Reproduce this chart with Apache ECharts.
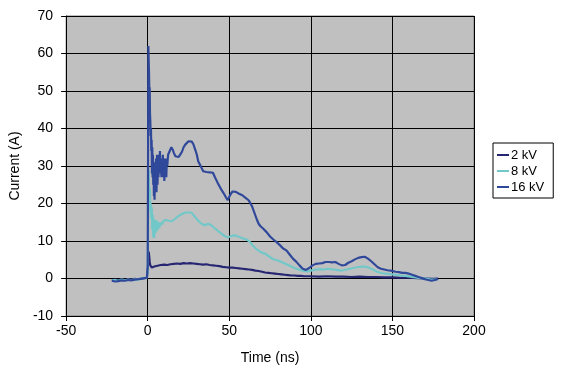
<!DOCTYPE html>
<html><head><meta charset="utf-8">
<script src="https://cdn.jsdelivr.net/npm/echarts@6/dist/echarts.min.js"></script>
<style>html,body{margin:0;padding:0;background:#fff}#c{width:571px;height:391px}</style>
</head><body><div id="c"></div>
<script>
var seriesNames = ['2 kV', '8 kV', '16 kV'];
var xTicks = [-50, 0, 50, 100, 150, 200];
var yTicks = [-10, 0, 10, 20, 30, 40, 50, 60, 70];

var kv2 = [[-22,-0.4],[-20,-0.3],[-18,-0.5],[-16,-0.2],[-14,-0.4],[-12,-0.2],[-10,-0.3],[-8,-0.1],[-6,-0.2],[-4,0.0],[-2,0.1],[-0.5,0.2],
[0,0.5],[0.3,4],[0.6,7.2],[0.9,6],[1.2,4.5],[1.5,3.6],[2,3.2],[2.5,2.9],[3,3.1],[3.5,2.8],[4,3.2],[5,3.1],[6,3.4],[7,3.3],[8,3.6],[9,3.5],[10,3.7],[12,3.6],[14,3.8],[16,3.9],[18,4.0],[20,3.9],[22,4.1],[24,4.0],[26,4.1],[28,4.0],[30,3.9],[32,3.8],[34,3.7],[36,3.8],[38,3.6],[40,3.5],[42,3.4],[44,3.3],[46,3.1],[48,3.0],[50,2.9],[52,2.9],[54,2.8],[56,2.7],[58,2.6],[60,2.5],[62,2.4],[64,2.3],[66,2.1],[68,2.0],[70,1.8],[72,1.6],[74,1.5],[76,1.4],[78,1.3],[80,1.2],[82,1.1],[84,1.0],[86,0.9],[88,0.8],[90,0.8],[92,0.7],[94,0.7],[96,0.6],[100,0.6],[105,0.5],[110,0.6],[115,0.5],[120,0.5],[125,0.4],[130,0.5],[135,0.4],[140,0.4],[145,0.3],[150,0.3],[155,0.2],[160,0.2],[165,0.1],[170,0.0],[175,-0.1],[178,0.0]];

var kv8 = [[-22,-0.5],[-20,-0.4],[-18,-0.6],[-16,-0.3],[-14,-0.5],[-12,-0.3],[-10,-0.4],[-8,-0.2],[-6,-0.3],[-4,0.0],[-2,0.1],[-0.5,0.2],
[0,2],[0.2,12],[0.4,22],[0.6,29],[0.8,25],[1,20],[1.3,24],[1.6,18],[1.9,20],[2.2,16],[2.5,19],[2.8,13],[3.1,17],[3.4,11],[3.7,16],[4,10.8],[4.3,15.6],[4.6,12],[4.9,15],[5.2,12.5],[5.5,15.5],[5.8,12.8],[6.1,15],[6.4,13.2],[6.8,15],[7.2,13.5],[7.6,14.8],[8,14.2],[8.5,15],[9,14.4],[9.5,15.3],[10,14.8],[11,15.6],[12,15.2],[13,15.4],[14,15.9],[15,15.3],[16,15.6],[17,16],[18,16.4],[19,16.7],[20,17],[21,17.2],[22,17.5],[23,17.6],[24,17.8],[25,17.6],[26,17.9],[27,17.5],[28,17.1],[29,16.4],[30,15.9],[31,15.4],[32,14.9],[33,14.6],[34,14.3],[35,14.2],[36,14.5],[37,14.6],[38,14.3],[39,14.2],[40,13.8],[41,13.4],[42,13.1],[43,12.7],[44,12.3],[45,12],[46,11.7],[47,11.4],[48,11.1],[49,10.9],[50,11],[51,11.3],[52,11.4],[53,11.5],[54,11.4],[55,11.3],[56,11.1],[57,10.9],[58,10.8],[59,10.6],[60,10.5],[61,10.3],[62,10.1],[63,9.6],[64,9],[65,8.5],[66,8.1],[67,7.8],[68,7.4],[69,7.1],[70,6.9],[71,6.7],[72,6.6],[73,6.4],[74,6],[75,5.7],[76,5.4],[77,5.2],[78,5],[80,4.8],[82,4.4],[84,4],[86,3.6],[88,3.2],[90,2.8],[92,2.5],[94,2.2],[96,2.0],[98,1.9],[100,2.1],[102,2.3],[104,2.4],[106,2.5],[108,2.4],[110,2.6],[112,2.5],[114,2.4],[116,2.3],[118,2.1],[120,2.2],[122,2.4],[124,2.6],[126,2.8],[128,3],[130,3.1],[132,3.2],[134,3.1],[136,2.8],[138,2.4],[140,1.9],[142,1.6],[144,1.4],[146,1.3],[148,1.2],[150,1.1],[152,1],[155,0.8],[158,0.7],[161,0.5],[164,0.3],[167,0.1],[170,0],[173,-0.2],[176,-0.3],[178,-0.2]];

var kv16 = [[-22,-0.6],[-21,-0.3],[-20,-0.8],[-19,-0.4],[-18,-0.7],[-17,-0.2],[-16,-0.5],[-15,-0.3],[-14,-0.6],[-13,-0.1],[-12,-0.4],[-11,-0.2],[-10,-0.5],[-9,-0.1],[-8,-0.3],[-7,0.1],[-6,-0.2],[-5,0.2],[-4,-0.1],[-3,0.3],[-2,0.1],[-1,0.4],[-0.5,0.2],
[0,3],[0.2,30],[0.4,62],[0.6,58],[0.8,55],[1,49],[1.2,51],[1.4,44],[1.6,42],[1.8,38],[2.0,40],[2.2,34],[2.4,37],[2.6,28],[2.8,35],[3.0,27],[3.2,33],[3.4,25],[3.6,31],[3.8,22],[4.0,29],[4.2,21],[4.5,31],[4.8,24],[5.1,32],[5.4,23],[5.7,33],[6.0,25],[6.3,31],[6.6,27],[6.9,33],[7.2,29],[7.5,34],[7.8,28],[8.1,32],[8.4,27],[8.7,32],[9.0,29],[9.3,33],[9.6,27],[9.9,32],[10.2,26],[10.5,31],[10.8,28],[11.1,32],[11.4,27],[11.7,31],[12,30],[12.5,33],[13,32.5],[13.5,34],[14,33.8],[14.5,35],[15,34.6],[15.5,34.2],[16,33.5],[16.5,33.8],[17,32.6],[18,32.8],[19,32.4],[20,33.1],[21,33.8],[22,35],[23,35.7],[24,36.2],[25,36.6],[26,36.1],[27,36.5],[28,35.8],[29,34.5],[30,33.2],[31,31.2],[32,30.4],[33,29.5],[34,28.6],[35,28.2],[36,28.4],[37,27.9],[38,28.3],[39,28.1],[40,28.2],[41,27.2],[42,26.3],[43,25.4],[44,24.6],[45,23.8],[46,23.1],[47,22.4],[48,21.6],[49,20.9],[50,21.8],[51,22.6],[52,23.2],[53,23],[54,23.1],[55,22.8],[56,22.6],[57,22.3],[58,22.2],[59,21.8],[60,21.5],[61,21.1],[62,20.8],[63,20.3],[64,19.2],[65,18],[66,16.8],[67,15.6],[68,14.6],[69,14],[70,13.5],[71,13.2],[72,12.8],[73,12.3],[74,11.8],[75,11.2],[76,10.8],[77,10.4],[78,10],[79,9.7],[80,9.3],[81,8.9],[82,8.4],[83,8],[84,7.9],[85,7.5],[86,7],[87,6.4],[88,5.9],[89,5.3],[90,4.9],[91,4.5],[92,4],[93,3.5],[94,3],[95,2.6],[96,2.4],[97,2.3],[98,2.5],[99,2.8],[100,3.1],[101,3.5],[102,3.8],[103,3.9],[104,4.1],[105,4.0],[106,4.2],[107,4.1],[108,4.3],[109,4.4],[110,4.2],[111,4.4],[112,4.5],[113,4.3],[114,4.6],[115,4.4],[116,4.5],[117,3.9],[118,3.7],[119,3.5],[120,3.5],[121,3.6],[122,3.9],[123,4.2],[124,4.4],[125,4.6],[126,4.9],[127,5.1],[128,5.3],[129,5.5],[130,5.6],[131,5.7],[132,5.5],[133,5.8],[134,5.6],[135,5.3],[136,5.0],[137,4.6],[138,4.2],[139,3.8],[140,3.3],[141,3.0],[142,2.8],[143,2.6],[144,2.5],[145,2.4],[146,2.3],[147,2.2],[148,2.1],[149,2.1],[150,2],[152,1.8],[154,1.7],[156,1.5],[158,1.5],[160,1.3],[162,1.0],[164,0.7],[166,0.4],[168,0.1],[170,-0.2],[172,-0.4],[174,-0.6],[176,-0.4],[178,-0.1]];

var colors = ['#262673', '#72C8C8', '#30489A'];
var font = 'Liberation Sans, Arial, sans-serif';
var chart = echarts.init(document.getElementById('c'), null, {renderer: 'canvas'});
function mk(name, data, color) {
  return {name: name, type: 'line', data: data, showSymbol: false, symbol: 'none',
    lineStyle: {color: color, width: 2.2}, itemStyle: {color: color}, animation: false};
}
chart.setOption({
  animation: false,
  backgroundColor: '#ffffff',
  textStyle: {fontFamily: font},
  grid: {left: 64, right: 97, top: 16, bottom: 75, show: true, backgroundColor: '#C0C0C0', borderColor: '#808080', borderWidth: 1},
  legend: {
    orient: 'vertical', left: 493, top: 143, data: seriesNames,
    backgroundColor: '#ffffff', borderColor: '#000', borderWidth: 1,
    padding: [4, 9, 3, 4], itemGap: 0, itemWidth: 12, itemHeight: 2, icon: 'rect',
    textStyle: {fontFamily: font, fontSize: 13, color: '#000', padding: [0, 0, 0, -3], lineHeight: 16}
  },
  xAxis: {
    type: 'value', min: xTicks[0], max: xTicks[xTicks.length - 1], interval: 50,
    name: 'Time (ns)', nameLocation: 'middle', nameGap: 35,
    nameTextStyle: {fontFamily: font, fontSize: 14, color: '#000'},
    axisLine: {show: true, onZero: false, lineStyle: {color: '#000'}},
    axisTick: {show: true, inside: false, length: 5, lineStyle: {color: '#000'}},
    axisLabel: {fontFamily: font, fontSize: 14, color: '#000', margin: 8},
    splitLine: {show: true, lineStyle: {color: '#000', width: 1}}
  },
  yAxis: {
    type: 'value', min: yTicks[0], max: yTicks[yTicks.length - 1], interval: 10,
    name: 'Current (A)', nameLocation: 'middle', nameGap: 42, nameRotate: 90,
    nameTextStyle: {fontFamily: font, fontSize: 14, color: '#000'},
    axisLine: {show: true, onZero: false, lineStyle: {color: '#000'}},
    axisTick: {show: true, inside: false, length: 5, lineStyle: {color: '#000'}},
    axisLabel: {fontFamily: font, fontSize: 14, color: '#000', margin: 13},
    splitLine: {show: true, lineStyle: {color: '#000', width: 1}}
  },
  series: [mk(seriesNames[0], kv2, colors[0]), mk(seriesNames[1], kv8, colors[1]), mk(seriesNames[2], kv16, colors[2])]
});
</script></body></html>
